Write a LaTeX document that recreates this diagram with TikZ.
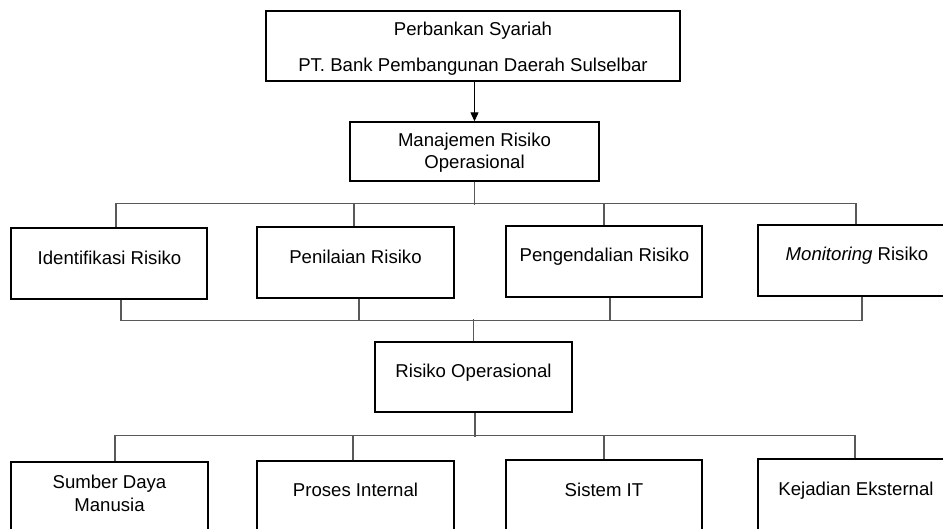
\documentclass[tikz,border=0pt]{standalone}
\usepackage{fontspec}
\setmainfont{Liberation Sans}
\usetikzlibrary{arrows.meta}
\begin{document}
\begin{tikzpicture}[x=1pt,y=-1pt,
  box/.style={draw=black,line width=1.4pt,minimum width=196pt,minimum height=71pt,inner sep=0pt},
  txt/.style={inner sep=0pt,text height=13.4pt,text depth=0pt,font=\fontsize{18.6}{22}\selectfont},
  conn/.style={draw=black!65,line width=1.1pt},
  arr/.style={draw=black,line width=1.1pt,-{Triangle[width=8pt,length=9pt]}}]
\useasboundingbox (0,0) rectangle (943,529);
\clip (0,0) rectangle (943,529);
% boxes
\node[box,minimum width=414pt,minimum height=70pt] (tb) at (473,46) {};
\node[box,minimum width=249pt,minimum height=59pt] (man) at (474.5,151.5) {};
\node[box] (id) at (109,263.5) {};
\node[box,minimum width=197pt] (pen) at (355.5,262.5) {};
\node[box] (peng) at (604,261.5) {};
\node[box] (mon) at (856,260.5) {};
\node[box,minimum width=197pt,minimum height=70pt] (ro) at (473.5,377) {};
\node[box,minimum width=197pt] (sdm) at (109.5,497.5) {};
\node[box,minimum width=197pt] (pi) at (355.5,496.5) {};
\node[box] (sit) at (604,495.5) {};
\node[box] (kej) at (856,494.5) {};
% texts
\node[txt] (t1a) at (473,29) {Perbankan Syariah};
\node[txt] (t1b) at (473,65) {PT. Bank Pembangunan Daerah Sulselbar};
\node[txt] (t2a) at (474.5,140) {Manajemen Risiko};
\node[txt] (t2b) at (474.5,162) {Operasional};
\node[txt] (t3) at (109.5,258) {Identifikasi Risiko};
\node[txt] (t4) at (355.5,257) {Penilaian Risiko};
\node[txt] (t5) at (604.5,255) {Pengendalian Risiko};
\node[txt] (t6) at (857,254) {\textit{Monitoring} Risiko};
\node[txt] (t7) at (473.5,371) {Risiko Operasional};
\node[txt] (t8a) at (109.5,482) {Sumber Daya};
\node[txt] (t8b) at (109.5,505) {Manusia};
\node[txt] (t9) at (355.5,490) {Proses Internal};
\node[txt] (t10) at (604,490) {Sistem IT};
\node[txt] (t11) at (856,489) {Kejadian Eksternal};
% connectors
\draw[arr] (man.north |- tb.south) -- (man.north);
\draw[conn] (man.south) -- ++(0,23);
\draw[conn] ([xshift=7pt]id.north) -- ++(0,-24) -| (mon.north);
\draw[conn] ([xshift=-1.5pt]pen.north) -- ++(0,-23);
\draw[conn] (peng.north) -- ++(0,-22);
\draw[conn] ([xshift=12pt]id.south) -- ++(0,21) -| ([xshift=6pt]mon.south);
\draw[conn] ([xshift=3.5pt]pen.south) -- ++(0,22);
\draw[conn] ([xshift=6pt]peng.south) -- ++(0,23);
\draw[conn] (ro.north) -- ++(0,-22);
\draw[conn] ([xshift=1.5pt]ro.south) -- ++(0,24);
\draw[conn] ([xshift=5.5pt]sdm.north) -- ++(0,-26) -| ([xshift=-1pt]kej.north);
\draw[conn] ([xshift=-2.5pt]pi.north) -- ++(0,-25);
\draw[conn] (sit.north) -- ++(0,-24);
\end{tikzpicture}
\end{document}
